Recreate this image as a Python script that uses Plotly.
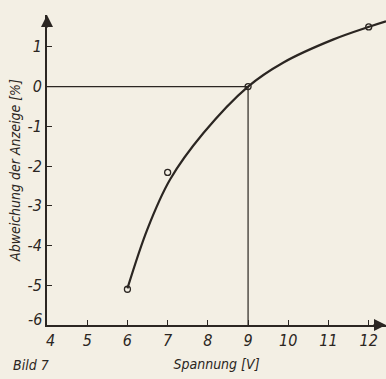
import plotly.graph_objects as go

# measured points
meas_x = [6, 7, 9, 12]
meas_y = [-5.1, -2.16, 0, 1.5]

# drawn curve
curve_x = [6.0, 6.5, 7.06, 7.89, 9.0, 9.87, 11.11, 12.03, 12.43]
curve_y = [-5.08, -3.58, -2.34, -1.17, 0.0, 0.6, 1.18, 1.51, 1.64]

# reference lines
ref_x = [4, 9, 9]
ref_y = [0, 0, -6]

x_ticks = [5, 6, 7, 8, 9, 10, 11, 12]
y_ticks = [1, 0, -1, -2, -3, -4, -5]

ink = "#2b2622"
paper = "#f3efe4"
font_fam = "DejaVu Sans Condensed, Liberation Sans Narrow, sans-serif"
tick_font = dict(family=font_fam, size=16, style="italic", color=ink)
title_font = dict(family=font_fam, size=14, style="italic", color=ink)

fig = go.Figure()
fig.add_trace(go.Scatter(x=ref_x, y=ref_y, mode="lines",
                         line=dict(color=ink, width=1.2), hoverinfo="skip"))
fig.add_trace(go.Scatter(x=curve_x, y=curve_y, mode="lines",
                         line=dict(color=ink, width=2.2, shape="spline", smoothing=1.0),
                         hoverinfo="skip"))
fig.add_trace(go.Scatter(x=meas_x, y=meas_y, mode="markers",
                         marker=dict(symbol="circle-open", size=6, color=ink,
                                     line=dict(width=1.3, color=ink))))

fig.update_layout(
    width=386, height=379,
    margin=dict(l=47, r=0, t=15, b=54),
    paper_bgcolor=paper, plot_bgcolor=paper,
    showlegend=False,
    font=dict(family=font_fam, color=ink, size=15, style="italic"),
    xaxis=dict(range=[4, 12.43], tickvals=x_ticks, ticktext=[str(v) for v in x_ticks],
               automargin=False,
               showgrid=False, zeroline=False, showline=True, linecolor=ink, linewidth=2,
               ticks="inside", ticklen=5, tickcolor=ink, tickwidth=1,
               tickfont=tick_font,
               title=dict(text="Spannung [V]", standoff=10, font=title_font)),
    yaxis=dict(range=[-6, 1.8], tickvals=y_ticks, ticktext=[str(v) for v in y_ticks],
               automargin=False,
               showgrid=False, zeroline=False, showline=True, linecolor=ink, linewidth=2,
               ticks="inside", ticklen=5, tickcolor=ink, tickwidth=1,
               tickfont=tick_font,
               title=dict(text="Abweichung der Anzeige [%]", standoff=4, font=title_font)),
)

# corner labels "-6" and "4"
fig.add_annotation(x=0, y=-6, xref="paper", yref="y", text="-6", showarrow=False,
                   xanchor="right", yanchor="bottom", xshift=-3, yshift=-6,
                   font=tick_font)
fig.add_annotation(x=4, y=0, xref="x", yref="paper", text="4", showarrow=False,
                   xanchor="center", yanchor="top", xshift=3, yshift=-4,
                   font=tick_font)
fig.add_annotation(x=0, y=0, xref="paper", yref="paper", text="Bild 7", showarrow=False,
                   xanchor="left", yanchor="top", xshift=-36, yshift=-30,
                   font=title_font)

# axis arrowheads
fig.add_annotation(x=4, y=1.8, xref="x", yref="y", ax=0, ay=14, text="", showarrow=True,
                   arrowhead=2, arrowsize=1.2, arrowwidth=2, arrowcolor=ink)
fig.add_annotation(x=12.43, y=-6, xref="x", yref="y", ax=-14, ay=0, text="", showarrow=True,
                   arrowhead=2, arrowsize=1.2, arrowwidth=2, arrowcolor=ink)

fig.write_html("out.html", config={"displayModeBar": False},
               post_script="document.body.style.margin='0';")
